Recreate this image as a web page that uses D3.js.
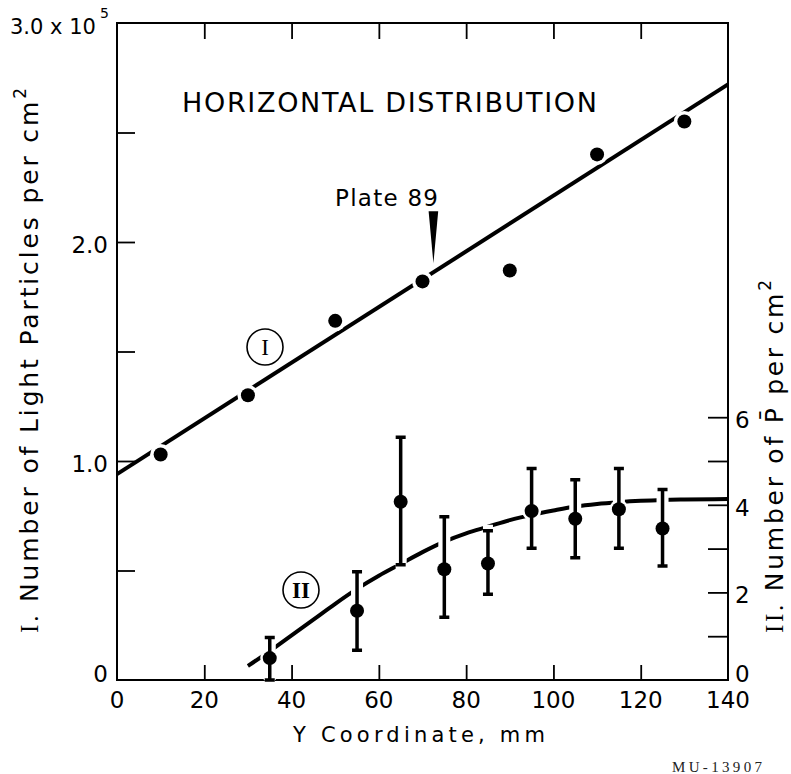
<!DOCTYPE html>
<html><head><meta charset="utf-8">
<script src="https://cdn.jsdelivr.net/npm/d3@7"></script>
<style>body{margin:0;background:#fff}svg{display:block}</style>
</head><body><svg id="c" width="791" height="774"></svg>
<script>
// ---- axis ticks / labels ----
const xTickLabels=[0,20,40,60,80,100,120,140];
const xInnerTicks=[20,40,60,80,100,120];
const leftTicks=[0.5,1.0,1.5,2.0,2.5];
const leftLabelVals=[0,1,2];
const leftLabelText=["0","1.0","2.0"];
const rightTicks=[1,2,3,4,5,6];
const rightLabelVals=[0,2,4,6];
// ---- series I : light particles (left axis, x10^5 per cm2) ----
const iX=[10,30,50,70,90,110,130];
const iY=[1.03,1.30,1.64,1.82,1.87,2.40,2.55];
const fitIX=[0,140];
const fitIY=[0.94,2.72];
// ---- series II : antiprotons (right axis, per cm2) ----
const iiX=[35,55,65,75,85,95,105,115,125];
const iiY=[0.50,1.58,4.07,2.53,2.66,3.86,3.68,3.90,3.46];
const iiLow=[0,0.68,2.63,1.43,1.96,3.01,2.79,3.01,2.60];
const iiHigh=[0.97,2.47,5.54,3.73,3.41,4.83,4.57,4.83,4.35];
const curveIIX=[30,35,40,45,50,55,60,65,70,75,80,85,90,95,100,105,110,115,120,125,130,140];
const curveIIY=[0.32,0.66,1.02,1.38,1.74,2.08,2.38,2.65,2.92,3.16,3.35,3.50,3.65,3.77,3.87,3.96,4.02,4.06,4.09,4.11,4.12,4.13];
// ---- annotation (data units) ----
const plateArrow={x:72.5,halfW:1.1,top:2.14,tip:1.903};

const svg=d3.select("#c");
const x=d3.scaleLinear([0,140],[117,728]);
const yL=d3.scaleLinear([0,3],[680,23]);
const yR=d3.scaleLinear([0,15],[680,23]);
const F="'DejaVu Sans', Verdana, sans-serif";
const SERIF="'Liberation Serif','DejaVu Serif',serif";

// frame
svg.append("rect").attr("x",x(0)).attr("y",yL(3)).attr("width",x(140)-x(0)).attr("height",yL(0)-yL(3))
  .attr("fill","none").attr("stroke","#000").attr("stroke-width",2);

// ticks via d3 axes (inward)
const tickStyle=g=>{g.select(".domain").remove();g.selectAll("line").attr("stroke","#000").attr("stroke-width",1.8);g.selectAll("text").remove();};
svg.append("g").attr("transform",`translate(0,${yL(0)})`).call(d3.axisBottom(x).tickValues(xInnerTicks).tickSize(-15)).call(tickStyle);
svg.append("g").attr("transform",`translate(0,${yL(3)})`).call(d3.axisTop(x).tickValues(xInnerTicks).tickSize(-16)).call(tickStyle);
svg.append("g").attr("transform",`translate(${x(0)},0)`).call(d3.axisLeft(yL).tickValues(leftTicks).tickSize(-18)).call(tickStyle);
svg.append("g").attr("transform",`translate(${x(140)},0)`).call(d3.axisRight(yR).tickValues(rightTicks).tickSize(-20)).call(tickStyle);

// tick labels
svg.append("g").selectAll("text").data(xTickLabels).join("text")
  .attr("x",d=>x(d)).attr("y",708).attr("text-anchor","middle")
  .attr("font-family",F).attr("font-size",23).text(d=>d);
svg.append("g").selectAll("text").data(leftLabelVals).join("text")
  .attr("x",108).attr("y",d=>d===0?682:yL(d)+11).attr("text-anchor","end")
  .attr("font-family",F).attr("font-size",23).text((d,i)=>leftLabelText[i]);
svg.append("text").attr("x",10).attr("y",34).attr("font-family",F).attr("font-size",22)
  .attr("textLength",86).attr("lengthAdjust","spacingAndGlyphs").text("3.0 x 10");
svg.append("text").attr("x",100).attr("y",18).attr("font-family",F).attr("font-size",14).text("5");
svg.append("g").selectAll("text").data(rightLabelVals).join("text")
  .attr("x",735).attr("y",d=>d===0?682:yR(d)+11)
  .attr("font-family",F).attr("font-size",23).text(d=>d);

// axis titles
svg.append("text").attr("x",293).attr("y",742).attr("font-family",F).attr("font-size",21)
  .attr("textLength",252).attr("lengthAdjust","spacing").text("Y Coordinate, mm");
const lt=svg.append("text").attr("transform","translate(38,633) rotate(-90)")
  .attr("font-family",F).attr("font-size",25).attr("textLength",545).attr("lengthAdjust","spacing");
lt.append("tspan").attr("font-family",SERIF).text("I.");
lt.append("tspan").text(" Number of Light Particles per cm");
lt.append("tspan").attr("font-size",17).attr("dy",-12).text("2");
const rt=svg.append("text").attr("transform","translate(783,633) rotate(-90)")
  .attr("font-family",F).attr("font-size",25).attr("textLength",353).attr("lengthAdjust","spacing");
rt.append("tspan").attr("font-family",SERIF).text("II.");
rt.append("tspan").text(" Number of P\u0304 per cm");
rt.append("tspan").attr("font-size",17).attr("dy",-12).text("2");

// chart title
svg.append("text").attr("x",182).attr("y",112).attr("font-family",F).attr("font-size",27)
  .attr("textLength",415).attr("lengthAdjust","spacing").text("HORIZONTAL DISTRIBUTION");

// series I fit line
const lineI=d3.line().x(d=>x(d[0])).y(d=>yL(d[1]));
svg.append("path").attr("d",lineI(fitIX.map((v,i)=>[v,fitIY[i]])))
  .attr("fill","none").attr("stroke","#000").attr("stroke-width",4);

// series II curve
const lineII=d3.line().x(d=>x(d[0])).y(d=>yR(d[1])).curve(d3.curveMonotoneX);
svg.append("path").attr("d",lineII(curveIIX.map((v,i)=>[v,curveIIY[i]])))
  .attr("fill","none").attr("stroke","#000").attr("stroke-width",4);

// series I points with white halo (breaks the line)
const ptsI=iX.map((v,i)=>[v,iY[i]]);
svg.append("g").selectAll("circle").data(ptsI).join("circle")
  .attr("cx",d=>x(d[0])).attr("cy",d=>yL(d[1])).attr("r",10.5).attr("fill","#fff");
svg.append("g").selectAll("circle").data(ptsI).join("circle")
  .attr("cx",d=>x(d[0])).attr("cy",d=>yL(d[1])).attr("r",7).attr("fill","#000");

// series II error bars with halo
const ptsII=iiX.map((v,i)=>({x:v,y:iiY[i],lo:iiLow[i],hi:iiHigh[i]}));
const barPath=d=>{const cx=x(d.x),a=yR(d.lo),b=yR(d.hi);
  return `M${cx},${a}V${b}M${cx-5},${b}H${cx+5}M${cx-5},${a}H${cx+5}`;};
svg.append("g").selectAll("circle").data(ptsII).join("circle")
  .attr("cx",d=>x(d.x)).attr("cy",d=>yR(d.y)).attr("r",9.5).attr("fill","#fff");
svg.append("g").selectAll("path").data(ptsII).join("path").attr("d",barPath)
  .attr("fill","none").attr("stroke","#fff").attr("stroke-width",12);
svg.append("g").selectAll("path").data(ptsII).join("path").attr("d",barPath)
  .attr("fill","none").attr("stroke","#000").attr("stroke-width",3.5);
svg.append("g").selectAll("circle").data(ptsII).join("circle")
  .attr("cx",d=>x(d.x)).attr("cy",d=>yR(d.y)).attr("r",7).attr("fill","#000");

// circled series labels
const circ=(cx,cy,t,bold)=>{
  svg.append("circle").attr("cx",cx).attr("cy",cy).attr("r",18).attr("fill","#fff").attr("stroke","#000").attr("stroke-width",1.6);
  svg.append("text").attr("x",cx).attr("y",cy+8).attr("text-anchor","middle").attr("font-family",SERIF)
    .attr("font-size",23).attr("font-weight",bold?"bold":"normal").text(t);
};
circ(265,347,"I",false);
circ(301,590,"II",true);

// Plate 89 annotation
svg.append("text").attr("x",335).attr("y",206).attr("font-family",F).attr("font-size",23)
  .attr("textLength",103).attr("lengthAdjust","spacing").text("Plate 89");
svg.append("path").attr("d",`M${x(plateArrow.x-plateArrow.halfW)},${yL(plateArrow.top)}L${x(plateArrow.x+plateArrow.halfW)},${yL(plateArrow.top)}L${x(plateArrow.x)},${yL(plateArrow.tip)}Z`)
  .attr("fill","#000");

// figure id
svg.append("text").attr("x",672).attr("y",772).attr("font-family",SERIF).attr("font-size",15)
  .attr("fill","#222").attr("textLength",90).attr("lengthAdjust","spacing").text("MU-13907");
</script></body></html>
